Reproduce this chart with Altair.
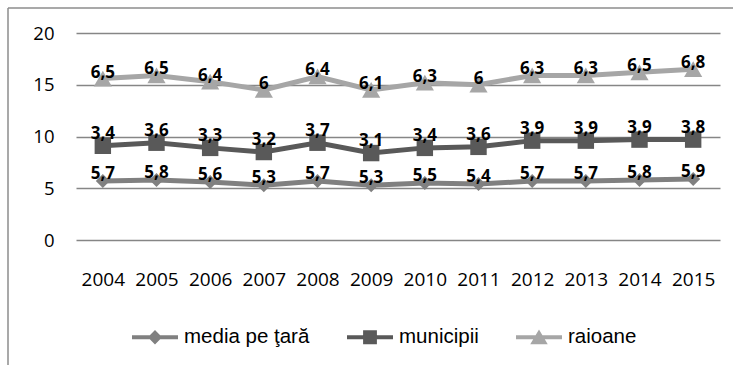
import altair as alt
import pandas as pd
import numpy as np

years = ["2004", "2005", "2006", "2007", "2008", "2009", "2010", "2011", "2012", "2013", "2014", "2015"]
series_names = ["media pe ţară", "municipii", "raioane"]
media = [5.7, 5.8, 5.6, 5.3, 5.7, 5.3, 5.5, 5.4, 5.7, 5.7, 5.8, 5.9]
municipii = [3.4, 3.6, 3.3, 3.2, 3.7, 3.1, 3.4, 3.6, 3.9, 3.9, 3.9, 3.8]
raioane = [6.5, 6.5, 6.4, 6.0, 6.4, 6.1, 6.3, 6.0, 6.3, 6.3, 6.5, 6.8]
colors = ["#808080", "#595959", "#a6a6a6"]
shapes = ["diamond", "square", "triangle-up"]
sizes = [196, 270, 330]
label_dy = [-7, -12, -6]

vals = np.array([media, municipii, raioane])
cum = np.cumsum(vals, axis=0)
rows = []
for si, name in enumerate(series_names):
    for yi, yr in enumerate(years):
        v = float(vals[si, yi])
        rows.append({"series": name, "year": yr, "value": v,
                     "cum": round(float(cum[si, yi]), 3),
                     "label": f"{v:g}".replace(".", ",")})
df = pd.DataFrame(rows)

legend_paths = [
    "M-1,-0.09H1V0.09H-1Z M-0.31,0L0,-0.31L0.31,0L0,0.31Z",
    "M-1,-0.09H1V0.09H-1Z M-0.3,-0.3H0.3V0.3H-0.3Z",
    "M-1,-0.09H1V0.09H-1Z M-0.38,0.3L0,-0.34L0.38,0.3Z",
]

x_enc = alt.X("year:N", sort=years, scale=alt.Scale(type="point", padding=0.5),
              axis=alt.Axis(title=None, labelAngle=0, ticks=False, domain=False,
                            labelFont="Open Sans", labelFontSize=19, labelColor="#000000",
                            labelPadding=30.5, grid=False))
y_enc = alt.Y("cum:Q", scale=alt.Scale(domain=[0, 20]),
              axis=alt.Axis(title=None, values=[0, 5, 10, 15, 20], ticks=False, domain=False,
                            labelFont="Open Sans", labelFontSize=18.5, labelColor="#000000",
                            labelPadding=22, gridColor="#868686", gridWidth=1.7))
color_enc = alt.Color("series:N", sort=series_names,
                      scale=alt.Scale(domain=series_names, range=colors), legend=None)

base = alt.Chart(df)

leg = alt.Legend(title=None, orient="none", direction="horizontal",
                 legendX=56, legendY=281, symbolSize=2116,
                 labelFont="Liberation Sans", labelFontSize=20.5,
                 labelColor="#000000", columnPadding=37, labelOffset=6,
                 symbolOpacity=1, symbolStrokeWidth=0)

legend_layer = base.mark_point(filled=True, size=1).encode(
    x=alt.X("year:N", sort=years), y="cum:Q",
    color=alt.Color("series:N", sort=series_names,
                    scale=alt.Scale(domain=series_names, range=colors), legend=leg),
    shape=alt.Shape("series:N", sort=series_names,
                    scale=alt.Scale(domain=series_names, range=legend_paths), legend=leg),
)

lines = base.mark_line(strokeWidth=5).encode(x=x_enc, y=y_enc, color=color_enc, detail="series:N")

point_layers = []
text_layers = []
for name, shp, sz, dy in zip(series_names, shapes, sizes, label_dy):
    sub = base.transform_filter(alt.datum.series == name)
    point_layers.append(
        sub.mark_point(filled=True, shape=shp, size=sz, opacity=1)
        .encode(x=alt.X("year:N", sort=years), y="cum:Q", color=color_enc)
    )
    text_layers.append(
        sub.mark_text(dy=dy, fontWeight="bold", fontSize=17, font="Open Sans", color="#000000")
        .encode(x=alt.X("year:N", sort=years), y="cum:Q", text="label:N")
    )

border_v = alt.Chart(pd.DataFrame({"a": [0]})).mark_rule(color="#8c8c8c", strokeWidth=1.5).encode(
    x=alt.value(-68), y=alt.value(-25), y2=alt.value(340))
border_h = alt.Chart(pd.DataFrame({"a": [0]})).mark_rule(color="#8c8c8c", strokeWidth=1.5).encode(
    y=alt.value(-25), x=alt.value(-68), x2=alt.value(665))

chart = alt.layer(border_v, border_h, lines, legend_layer, *point_layers, *text_layers).resolve_scale(
    color="independent", shape="independent"
).properties(
    width=644, height=207,
    autosize=alt.AutoSizeParams(type="none"),
    padding={"left": 76, "top": 33, "right": 13, "bottom": 125},
    background="#ffffff",
).configure_view(stroke=None)

chart.save("out.html", embed_options={"renderer": "svg", "actions": False})
